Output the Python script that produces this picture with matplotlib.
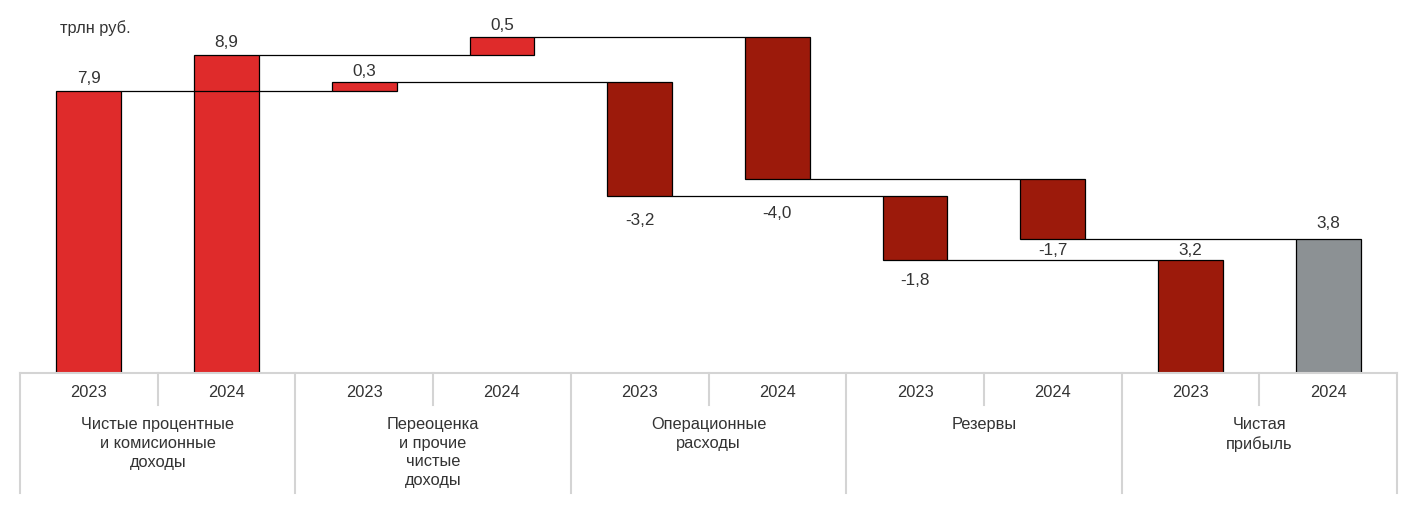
import matplotlib.pyplot as plt
import matplotlib.font_manager as fm
import numpy as np

# ---- data ----
groups = ["Чистые процентные\nи комисионные\nдоходы",
          "Переоценка\nи прочие\nчистые\nдоходы",
          "Операционные\nрасходы",
          "Резервы",
          "Чистая\nприбыль"]
years = ["2023", "2024"]
# first value = starting total, then changes; final group = resulting total
deltas_2023 = [7.9, 0.26, -3.2, -1.79]
deltas_2024 = [8.9, 0.5, -3.96, -1.67]
unit_label = "трлн руб."

# ---- style ----
RED = "#DF2B2B"
DARK = "#9C1A0B"
GRAY = "#8C9194"
TXT = "#333333"
GRID = "#D4D4D4"

plt.rcParams['font.family'] = ['Liberation Sans', 'DejaVu Sans']

W, H = 1418, 525
fig = plt.figure(figsize=(W / 100, H / 100), dpi=100)
base_px = 373.3
scale = 35.73  # px per unit
left_px, right_px = 20, 1397
ax = fig.add_axes([left_px / W, (H - base_px) / H, (right_px - left_px) / W, base_px / H])
ax.set_xlim(-0.5, 9.5)
ax.set_ylim(0, base_px / scale)
ax.axis('off')

bw = 0.47
series = [deltas_2023, deltas_2024]
# label offsets in pixels (positive above top, negative below bottom)
label_off = {
    0: [13, 10, -24, -20, 10],
    1: [13, 12, -35, -12, 15],
}
for s, deltas in enumerate(series):
    cum = 0.0
    prev_x = None
    for g in range(len(groups)):
        x = 2 * g + s
        if g == 0:
            val = deltas[0]
            bottom, height = 0.0, val
            cum = val
            color = RED
            y_lab = bottom + height
            lab = val
        elif g < len(groups) - 1:
            d = deltas[g]
            bottom = min(cum, cum + d)
            height = abs(d)
            cum = cum + d
            color = RED if d >= 0 else DARK
            lab = d
            y_lab = bottom + height if d >= 0 else bottom
        else:
            bottom, height = 0.0, cum
            color = DARK if s == 0 else GRAY
            lab = cum
            y_lab = cum
        ax.bar(x, height, bottom=bottom, width=bw, color=color,
               edgecolor="black", linewidth=0.9, zorder=2)
        off = label_off[s][g]
        ax.annotate(f"{lab:.1f}".replace(".", ","), (x, y_lab),
                    xytext=(0, off), textcoords="offset pixels",
                    ha="center", va="center", fontsize=12.3, color=TXT, zorder=4)
        # connector from previous bar
        if prev_x is not None:
            ax.plot([prev_x + bw / 2, x - bw / 2], [prev_level, prev_level],
                    color="black", linewidth=0.9, zorder=3, solid_capstyle="butt")
        prev_x = x
        prev_level = cum

fig.text(60 / W, 1 - 28 / H, unit_label, ha="left", va="center",
         fontsize=11.8, color=TXT)

# ---- category area ----
bot_px = 493
cax = fig.add_axes([left_px / W, (H - bot_px) / H, (right_px - left_px) / W, (bot_px - base_px) / H])
cax.set_xlim(-0.5, 9.5)
cax.set_ylim(bot_px - base_px, 0)
cax.axis('off')
cax.plot([-0.5, 9.5], [0, 0], color=GRID, linewidth=1.5, clip_on=False)
for g in range(len(groups) + 1):
    cax.plot([2 * g - 0.5] * 2, [0, bot_px - base_px], color=GRID, linewidth=1.5, clip_on=False)
for g in range(len(groups)):
    cax.plot([2 * g + 0.5] * 2, [0, 32], color=GRID, linewidth=1.5, clip_on=False)
    for s in range(2):
        cax.text(2 * g + s, 19, years[s], ha="center", va="center",
                 fontsize=11.8, color=TXT)
    cax.text(2 * g + 0.5, 44, groups[g], ha="center", va="top",
             fontsize=11.8, color=TXT, linespacing=1.3)

fig.savefig("out.png", dpi=100, facecolor="white")
